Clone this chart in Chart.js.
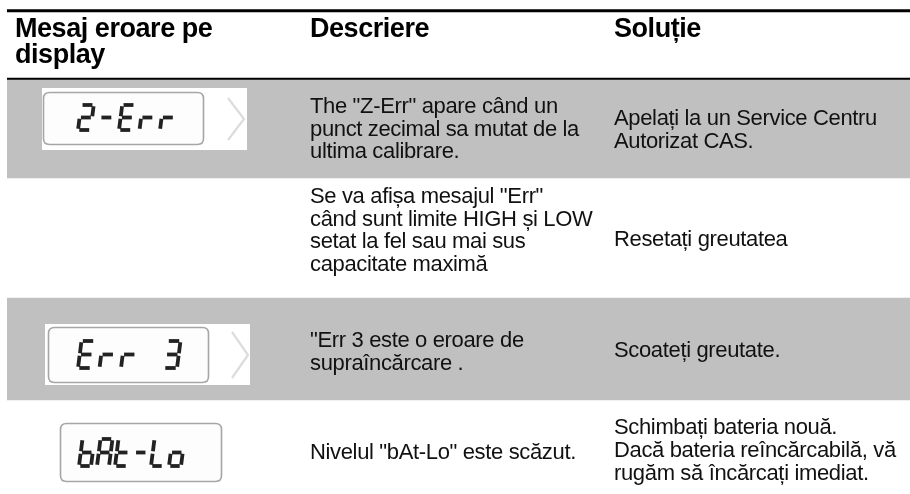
<!DOCTYPE html>
<html>
<head>
<meta charset="utf-8">
<script src="https://cdn.jsdelivr.net/npm/chart.js@4/dist/chart.umd.min.js"></script>
<style>
html,body{margin:0;padding:0;background:#fff;}
canvas{display:block;}
</style>
</head>
<body>
<canvas id="c" width="910" height="494"></canvas>
<script>
// ---- data ----
const headers = ['Mesaj eroare pe\ndisplay', 'Descriere', 'Soluție'];
const displayCodes = ['2-Err', '', 'Err 3', 'bAt-Lo'];
const descriptions = [
  ['The "Z-Err" apare când un', 'punct zecimal sa mutat de la', 'ultima calibrare.'],
  ['Se va afișa mesajul "Err"', 'când sunt limite HIGH și LOW', 'setat la fel sau mai sus', 'capacitate maximă'],
  ['"Err 3 este o eroare de', 'supraîncărcare .'],
  ['Nivelul "bAt-Lo" este scăzut.']
];
const solutions = [
  ['Apelați la un Service Centru', 'Autorizat CAS.'],
  ['Resetați greutatea'],
  ['Scoateți greutate.'],
  ['Schimbați bateria nouă.', 'Dacă bateria reîncărcabilă, vă', 'rugăm să încărcați imediat.']
];
const shadedRows = [true, false, true, false];

// ---- layout (positions / sizes / styles) ----
const W = 910, H = 494;
const rowEdges = [80, 178, 298, 400, 494];
const topRule = [9.5, 12];
const headRule = [78, 81];
const colX = [15, 310, 614];
const headBase = [36.5, 63];
const descBase = [[113, 135.5, 158], [203, 225.5, 248, 270.5], [347, 370], [459]];
const solBase = [[125, 148], [246], [357], [434, 457, 480]];
const lcdLayout = [
  {bg: [42, 88, 247, 150], frame: [43, 92, 204, 145], chev: [228, 98, 244, 140], x0: 78, pitch: 20.5, top: 105, h: 25, w: 12.5},
  null,
  {bg: [45, 324, 250, 385], frame: [48, 327, 209, 383], chev: [232, 332, 248, 378], x0: 78, pitch: 21.5, top: 341, h: 27, w: 13},
  {bg: null, frame: [60, 423, 222, 482], chev: null, x0: 79, pitch: 18, top: 439, h: 27, w: 12}
];
const GREY = '#c0c0c0';

const SEG = {
  '2': 'abged', '-': 'g', 'E': 'afged', 'r': 'eg', ' ': '', '3': 'abcdg',
  'b': 'cdefg', 'A': 'abcefg', 't': 'defg', 'L': 'def', 'o': 'cdeg', 'Z': 'abged'
};

function drawDigit(ctx, ch, x, top, w, h) {
  const segs = SEG[ch] || '';
  const t = 3.8, gap = 1.3, slant = 0.13;
  const P = (px, py) => [x + px + (h - py) * slant, top + py];
  const m = h / 2;
  const lines = {
    a: [[0, 0], [w, 0]], b: [[w, 0], [w, m]], c: [[w, m], [w, h]],
    d: [[0, h], [w, h]], e: [[0, m], [0, h]], f: [[0, 0], [0, m]], g: [[0, m], [w, m]]
  };
  ctx.save();
  ctx.strokeStyle = '#222';
  ctx.lineWidth = t;
  ctx.lineCap = 'butt';
  for (const s of segs) {
    let [[x1, y1], [x2, y2]] = lines[s];
    if (x1 === x2) { y1 += gap; y2 -= gap; } else { x1 += gap; x2 -= gap; }
    const p1 = P(x1, y1), p2 = P(x2, y2);
    ctx.beginPath();
    ctx.moveTo(p1[0], p1[1]);
    ctx.lineTo(p2[0], p2[1]);
    ctx.stroke();
  }
  ctx.restore();
}

function roundRect(ctx, x0, y0, x1, y1, r) {
  ctx.beginPath();
  ctx.moveTo(x0 + r, y0);
  ctx.lineTo(x1 - r, y0); ctx.quadraticCurveTo(x1, y0, x1, y0 + r);
  ctx.lineTo(x1, y1 - r); ctx.quadraticCurveTo(x1, y1, x1 - r, y1);
  ctx.lineTo(x0 + r, y1); ctx.quadraticCurveTo(x0, y1, x0, y1 - r);
  ctx.lineTo(x0, y0 + r); ctx.quadraticCurveTo(x0, y0, x0 + r, y0);
  ctx.closePath();
}

const tablePlugin = {
  id: 'tableText',
  afterDatasetsDraw(chart) {
    const ctx = chart.ctx;
    const ys = chart.scales.y;
    const Y = v => ys.getPixelForValue(v);
    ctx.save();
    // headers
    ctx.fillStyle = '#000';
    ctx.textBaseline = 'alphabetic';
    ctx.font = 'bold 27px "Liberation Sans", Arial, sans-serif';
    ctx.letterSpacing = '-0.45px';
    headers.forEach((hd, i) => {
      hd.split('\n').forEach((ln, j) => ctx.fillText(ln, colX[i], Y(headBase[j])));
    });
    // body
    ctx.font = '22px "Liberation Sans", Arial, sans-serif';
    ctx.letterSpacing = '-0.35px';
    ctx.fillStyle = '#111';
    descriptions.forEach((lines, r) => lines.forEach((ln, j) => ctx.fillText(ln, colX[1], Y(descBase[r][j]))));
    solutions.forEach((lines, r) => lines.forEach((ln, j) => ctx.fillText(ln, colX[2], Y(solBase[r][j]))));
    ctx.letterSpacing = '0px';
    // LCD displays
    displayCodes.forEach((code, r) => {
      const L = lcdLayout[r];
      if (!L || !code) return;
      if (L.bg) {
        ctx.fillStyle = '#fff';
        ctx.fillRect(L.bg[0], Y(L.bg[1]), L.bg[2] - L.bg[0], Y(L.bg[3]) - Y(L.bg[1]));
      }
      const f = L.frame;
      roundRect(ctx, f[0] + 0.5, Y(f[1]) + 0.5, f[2] - 0.5, Y(f[3]) - 0.5, 6);
      ctx.fillStyle = '#fdfdfd';
      ctx.fill();
      ctx.strokeStyle = '#a6a6a6';
      ctx.lineWidth = 1.6;
      ctx.stroke();
      if (L.chev) {
        const c = L.chev;
        ctx.beginPath();
        ctx.moveTo(c[0], Y(c[1]));
        ctx.lineTo(c[2], Y((c[1] + c[3]) / 2));
        ctx.lineTo(c[0], Y(c[3]));
        ctx.strokeStyle = '#dcdcdc';
        ctx.lineWidth = 2.2;
        ctx.stroke();
      }
      [...code].forEach((ch, k) => drawDigit(ctx, ch, L.x0 + k * L.pitch, Y(L.top), L.w, L.h));
    });
    ctx.restore();
  }
};

const barStyle = {borderWidth: 0, grouped: false, barPercentage: 1, categoryPercentage: 1};
const datasets = [];
shadedRows.forEach((s, i) => {
  if (s) datasets.push(Object.assign({
    label: 'rând ' + (i + 1),
    data: [[rowEdges[i], rowEdges[i + 1]]],
    backgroundColor: GREY
  }, barStyle));
});
datasets.push(Object.assign({label: 'linie sus', data: [topRule], backgroundColor: '#000'}, barStyle));
datasets.push(Object.assign({label: 'linie antet', data: [headRule], backgroundColor: '#000'}, barStyle));

new Chart(document.getElementById('c'), {
  type: 'bar',
  data: {labels: ['tabel'], datasets},
  options: {
    responsive: false,
    animation: false,
    layout: {padding: {left: 7, right: 0, top: 0, bottom: 0}},
    plugins: {legend: {display: false}, tooltip: {enabled: false}},
    scales: {
      x: {display: false, offset: true},
      y: {display: false, reverse: true, min: 0, max: H}
    }
  },
  plugins: [tablePlugin]
});
</script>
</body>
</html>
